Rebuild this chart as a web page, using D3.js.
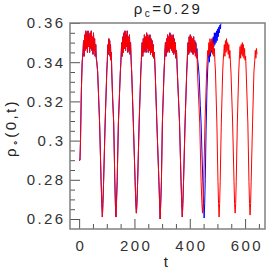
<!DOCTYPE html>
<html>
<head>
<meta charset="utf-8">
<script src="https://cdn.jsdelivr.net/npm/d3@7"></script>
<style>
  body { margin: 0; background: #fff; }
  text { font-family: "Liberation Sans", Arial, sans-serif; letter-spacing: 2.4px; }
</style>
</head>
<body>
<div id="chart"></div>
<script>
// valores: [t, rho]
const redSeries = [
  [0,0.290],[3,0.290],[5,0.300],[8,0.325],[11,0.340],[14,0.345],
  [16,0.351],[18,0.343],[20,0.354],[22,0.346],[24,0.356],[26,0.347],[28,0.355],[30,0.345],
  [32,0.356],[34,0.348],[36,0.354],[38,0.345],[40,0.355],[42,0.347],[44,0.356],[46,0.346],
  [48,0.353],[50,0.344],[52,0.355],[54,0.346],[56,0.352],[58,0.343],[60,0.349],[62,0.342],
  [64,0.340],[67,0.335],[74,0.309],[79.5,0.279],[82,0.268],[84,0.261],[86,0.268],[88.5,0.279],
  [94,0.309],[100,0.335],[102,0.341],
  [103,0.345],[104.5,0.349],[106,0.344],[107.5,0.352],[109,0.346],[110.5,0.351],[112,0.343],
  [113.5,0.349],[115,0.341],[116.5,0.345],[118,0.335],
  [121,0.322],[125,0.309],[129,0.280],[131,0.268],[133,0.261],[135,0.268],[137.5,0.279],
  [142,0.309],[149,0.335],[151,0.340],
  [152,0.344],[154,0.350],[156,0.343],[158,0.353],[160,0.345],[162,0.355],[164,0.347],
  [166,0.356],[168,0.346],[170,0.354],[172,0.348],[174,0.356],[176,0.345],[178,0.353],
  [180,0.346],[182,0.354],[184,0.344],[186,0.350],[188,0.341],
  [190,0.335],[196,0.309],[202.5,0.279],[205,0.268],[207,0.263],[209,0.268],[211.5,0.279],
  [217,0.309],[223,0.335],[225,0.341],
  [226,0.345],[228,0.350],[230,0.343],[232,0.352],[234,0.345],[236,0.354],[238,0.346],
  [240,0.353],[242,0.345],[244,0.355],[246,0.347],[248,0.354],[250,0.345],[252,0.353],
  [254,0.346],[256,0.354],[258,0.344],[260,0.352],[262,0.345],[264,0.351],[266,0.343],
  [268,0.349],[270,0.342],[272,0.345],
  [275,0.335],[281,0.309],[288.5,0.279],[291,0.268],[293,0.260],[295,0.268],[297.5,0.279],
  [301,0.309],[307,0.335],[309,0.341],
  [310,0.345],[312,0.350],[314,0.343],[316,0.352],[318,0.345],[320,0.354],[322,0.346],
  [324,0.353],[326,0.345],[328,0.355],[330,0.347],[332,0.354],[334,0.346],[336,0.353],
  [338,0.345],[340,0.354],[342,0.344],[344,0.352],[346,0.345],[348,0.350],[350,0.342],[352,0.346],
  [355,0.335],[363,0.309],[368.5,0.279],[371,0.268],[373,0.261],[375,0.268],[377.5,0.279],
  [383,0.309],[389,0.335],[391,0.341],
  [392,0.345],[394,0.350],[396,0.344],[398,0.353],[400,0.345],[402,0.354],[404,0.346],
  [406,0.353],[408,0.345],[410,0.352],[412,0.344],[414,0.353],[416,0.345],[418,0.351],
  [420,0.343],[422,0.349],[424,0.342],[426,0.345],
  [428,0.335],[436,0.309],[441,0.279],[444,0.268],[446,0.263],[448,0.268],[450.5,0.279],
  [455,0.309],[461,0.335],[463,0.341],
  [465,0.346],[467,0.343],[469,0.350],[471,0.344],[473,0.352],[475,0.345],[477,0.351],
  [479,0.346],[481,0.352],[483,0.344],[485,0.350],[487,0.343],[489,0.347],[491,0.340],
  [493,0.335],[498,0.309],[502,0.279],[504,0.268],[506,0.261],[508,0.268],[510,0.279],
  [514,0.309],[519,0.335],[521,0.341],
  [523,0.345],[525,0.349],[527,0.343],[529,0.351],[531,0.345],[533,0.352],[535,0.346],
  [537,0.350],[539,0.344],[541,0.349],[543,0.342],[545,0.346],[547,0.340],
  [549,0.335],[555,0.309],[560,0.279],[562,0.268],[564,0.263],[566,0.268],[568,0.279],
  [572,0.309],[577,0.335],[579,0.341],
  [580,0.344],[582,0.348],[584,0.342],[586,0.349],[588,0.344],[590,0.350],[592,0.343],
  [594,0.349],[596,0.342],[598,0.347],[600,0.341],[602,0.343],
  [604,0.335],[610,0.309],[614,0.279],[616,0.268],[618,0.262],[620,0.268],[622,0.279],
  [627,0.309],[632,0.335],[635,0.341],[637,0.346],[639,0.342],[641,0.347],[643,0.344]
];

// la serie azul coincide con la roja hasta t=416 y luego se separa
const blueTail = [
  [418,0.351],[420,0.345],[422,0.350],[424,0.344],[426,0.347],[428,0.342],[431,0.338],
  [434,0.333],[438,0.318],[441,0.309],[446,0.285],[449,0.272],[452,0.2605],[454,0.268],
  [456,0.280],[459,0.305],[462,0.325],[465,0.337],[467,0.342],
  [469,0.346],[471,0.340],[473,0.349],[475,0.343],[477,0.350],[479,0.345],[481,0.352],
  [483,0.346],[485,0.353],[487,0.348],[489,0.355],[491,0.349],[493,0.355],[495,0.350],
  [497,0.356],[499,0.351],[501,0.357],[503,0.353],[505,0.358],[507,0.355],[509,0.359],
  [511,0.357],[513,0.361]
];
const blueSeries = redSeries.filter(d => d[0] <= 416).concat(blueTail);

const xTicks = [0, 200, 400, 600];
const xMinor = [-50, 50, 100, 150, 250, 300, 350, 450, 500, 550, 650];
const yTicks = [0.26, 0.28, 0.30, 0.32, 0.34, 0.36];
const yLabels = ["0.26", "0.28", "0.3", "0.32", "0.34", "0.36"];
const yMinor = [0.265, 0.27, 0.275, 0.285, 0.29, 0.295, 0.305, 0.31, 0.315, 0.325, 0.33, 0.335, 0.345, 0.35, 0.355];

const W = 271, H = 271;
const mLeft = 70, mRight = 265, mTop = 23, mBottom = 229;

const svg = d3.select("#chart").append("svg")
    .attr("width", W)
    .attr("height", H);

const x = d3.scaleLinear().domain([-33, 672]).range([mLeft, mRight]);
const y = d3.scaleLinear().domain([0.2549, 0.36]).range([mBottom, mTop]);

svg.append("clipPath").attr("id", "clip")
  .append("rect")
    .attr("x", mLeft).attr("y", mTop)
    .attr("width", mRight - mLeft).attr("height", mBottom - mTop);

const line = d3.line().x(d => x(d[0])).y(d => y(d[1]));

const plot = svg.append("g").attr("clip-path", "url(#clip)");
plot.append("path").datum(blueSeries)
    .attr("d", line).attr("fill", "none")
    .attr("stroke", "#0000ff").attr("stroke-width", 1);
plot.append("path").datum(redSeries)
    .attr("d", line).attr("fill", "none")
    .attr("stroke", "#ff0000").attr("stroke-width", 1);

// ejes con marcas hacia dentro
function styleAxis(g) {
  g.select(".domain").remove();
  g.selectAll(".tick line").attr("stroke", "#555").attr("stroke-width", 1);
  g.selectAll(".tick text").attr("fill", "#333").style("font-size", "15px");
}

svg.append("g")
    .attr("transform", `translate(0,${mBottom})`)
    .call(d3.axisBottom(x).tickValues(xTicks).tickSize(-10).tickPadding(11).tickFormat(d3.format("d")))
    .call(styleAxis)
    .selectAll(".tick text").attr("dx", 1.2);
svg.append("g")
    .attr("transform", `translate(0,${mBottom})`)
    .call(d3.axisBottom(x).tickValues(xMinor.filter(v => x(v) > mLeft && x(v) < mRight)).tickSize(-5).tickFormat(""))
    .call(styleAxis);

svg.append("g")
    .attr("transform", `translate(${mLeft},0)`)
    .call(d3.axisLeft(y).tickValues(yTicks).tickSize(-10).tickPadding(4.5).tickFormat((d, i) => yLabels[i]))
    .call(styleAxis);
svg.append("g")
    .attr("transform", `translate(${mLeft},0)`)
    .call(d3.axisLeft(y).tickValues(yMinor).tickSize(-5).tickFormat(""))
    .call(styleAxis);

// marco
svg.append("rect")
    .attr("x", mLeft).attr("y", mTop)
    .attr("width", mRight - mLeft).attr("height", mBottom - mTop)
    .attr("fill", "none").attr("stroke", "#808080").attr("stroke-width", 1.5);

// titulo
const title = svg.append("text")
    .attr("x", 168).attr("y", 13.5)
    .attr("text-anchor", "middle")
    .attr("fill", "#222")
    .style("font-size", "15px");
title.append("tspan").text("ρ");
title.append("tspan").attr("dy", 3).style("font-size", "10px").text("c");
title.append("tspan").attr("dy", -3).text("=0.29");

// etiquetas de ejes
svg.append("text")
    .attr("x", 167).attr("y", 267)
    .attr("text-anchor", "middle")
    .attr("fill", "#222")
    .style("font-size", "15px")
    .text("t");

const ylab = svg.append("text")
    .attr("transform", "translate(16,128) rotate(-90)")
    .attr("text-anchor", "middle")
    .attr("fill", "#222")
    .style("font-size", "15px");
ylab.append("tspan").text("ρ");
ylab.append("tspan").attr("dy", 2).style("font-size", "10px").text("∘");
ylab.append("tspan").attr("dy", -2).text("(0,t)");
</script>
</body>
</html>
